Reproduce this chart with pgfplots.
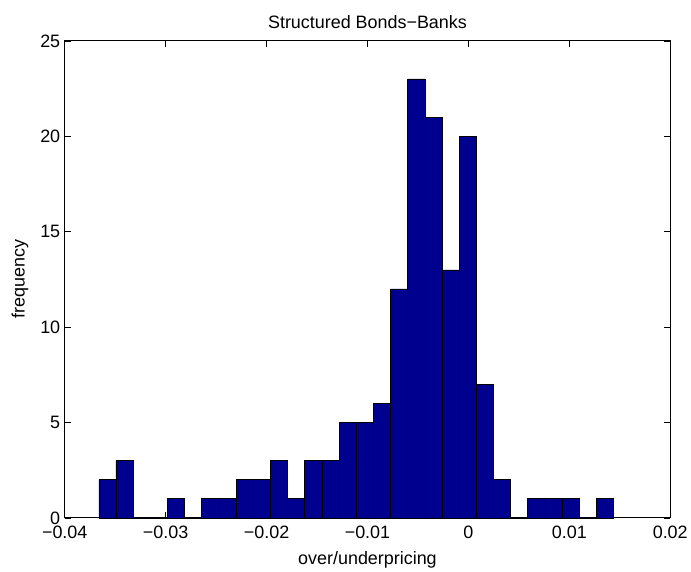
\documentclass[border=0pt]{standalone}
\usepackage{pgfplots}
\pgfplotsset{compat=1.18}
\usepackage{fontspec}
\setmainfont{Liberation Sans}
\definecolor{histblue}{RGB}{0,0,143}

% bin edges (left) and counts; last row closes the final interval
\pgfplotstableread{
x count
-0.03662 2
-0.03492 3
-0.03322 0
-0.03152 0
-0.02982 1
-0.02812 0
-0.02642 1
-0.02472 1
-0.02302 2
-0.02132 2
-0.01962 3
-0.01792 1
-0.01622 3
-0.01452 3
-0.01282 5
-0.01112 5
-0.00942 6
-0.00772 12
-0.00602 23
-0.00432 21
-0.00262 13
-0.00092 20
0.00078 7
0.00248 2
0.00418 0
0.00588 1
0.00758 1
0.00928 1
0.01098 0
0.01268 1
0.01438 1
}\histdata

\newcommand{\lblfont}{\fontsize{18}{21}\selectfont}

\begin{document}
\begin{tikzpicture}
\begin{axis}[
  name=ax,
  scale only axis,
  width=608pt, height=479pt,
  xmin=-0.04, xmax=0.02,
  ymin=0, ymax=25,
  scaled x ticks=false,
  xtick={-0.04,-0.03,-0.02,-0.01,0,0.01,0.02},
  xticklabels={\textminus0.04,\textminus0.03,\textminus0.02,\textminus0.01,0,0.01,0.02},
  ytick={0,5,10,15,20,25},
  tick align=inside,
  major tick length=6pt,
  tick style={black, line width=0.5pt},
  axis line style={black, line width=0.8pt},
  /pgf/number format/assume math mode=true,
  tick label style={font=\lblfont},
  xticklabel style={yshift=-5pt},
  yticklabel style={xshift=-1pt},
  title={Structured Bonds\char"2212 Banks},
  title style={font=\lblfont, yshift=3pt},
  xlabel={over/underpricing},
  ylabel={frequency},
  label style={font=\lblfont},
  xlabel style={yshift=-6pt},
  ylabel style={yshift=5pt},
  clip=false,
]
\addplot[ybar interval, fill=histblue, draw=black, line width=0.6pt]
  table[x=x, y=count] {\histdata};
\end{axis}
\path (ax.south west) ++(-65pt,-49pt) coordinate (bbA);
\path (ax.south west) ++(626pt,520pt) coordinate (bbB);
\useasboundingbox (bbA) rectangle (bbB);
\end{tikzpicture}
\end{document}
